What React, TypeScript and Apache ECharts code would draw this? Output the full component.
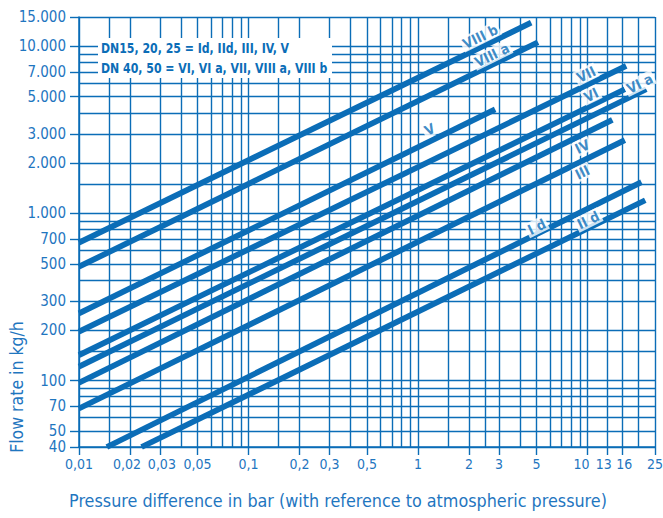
import React, { useEffect, useRef } from 'react';
import * as echarts from 'echarts';

const X_MIN = 0.01;
const X_MAX = 25;
const Y_MIN = 40;
const Y_MAX = 15000;

const xLabelValues = [0.01, 0.02, 0.03, 0.05, 0.1, 0.2, 0.3, 0.5, 1, 2, 3, 5, 10, 13, 16, 25];
const xLabelTexts = ['0,01', '0,02', '0,03', '0,05', '0,1', '0,2', '0,3', '0,5', '1', '2', '3', '5', '10', '13', '16', '25'];
const xGridValues = [0.01, 0.015, 0.02, 0.03, 0.04, 0.05, 0.06, 0.07, 0.08, 0.09, 0.1, 0.15, 0.2, 0.3, 0.4, 0.5, 0.6, 0.7, 0.8, 0.9, 1, 1.5, 2, 2.5, 3, 4, 5, 6, 7, 8, 9, 10, 13, 16, 20, 25];

const yLabelValues = [40, 50, 70, 100, 200, 300, 500, 700, 1000, 2000, 3000, 5000, 7000, 10000, 15000];
const yLabelTexts = ['40', '50', '70', '100', '200', '300', '500', '700', '1.000', '2.000', '3.000', '5.000', '7.000', '10.000', '15.000'];
const yGridValues = [40, 50, 60, 70, 80, 90, 100, 150, 200, 300, 400, 500, 600, 700, 800, 900, 1000, 1500, 2000, 3000, 4000, 5000, 6000, 7000, 8000, 9000, 10000, 15000];

const lineNames = ['VIII b', 'VIII a', 'V', 'VII', 'VI', 'VI a', 'IV', 'III', 'I d', 'II d'];
const lineStartX = [0.01, 0.01, 0.01, 0.01, 0.01, 0.01, 0.01, 0.01, 0.0146, 0.0234];
const lineStartY = [670, 480, 252, 196, 142, 121, 97, 68, 40, 40];
const lineEndX = [4.65, 5.1, 2.85, 16.9, 16.6, 22.2, 14.0, 16.6, 20.8, 21.9];
const lineEndY = [13870, 10590, 4200, 7640, 5540, 5540, 3630, 2750, 1540, 1200];

const labelX = [2.33, 2.73, 1.17, 9.8, 10.5, 20.3, 9.3, 9.33, 5.01, 10.1];
const labelY = [11440, 8880, 3190, 6800, 5120, 6000, 2510, 1764, 833, 914];

const legendLines = ['DN15, 20, 25 = Id, IId, III, IV, V', 'DN 40, 50 = VI, VI a, VII, VIII a, VIII b'];

const BLUE = '#0b6db7';
const TEXT_BLUE = '#1f76bf';
const FONT = "'Liberation Sans Narrow', 'DejaVu Sans Condensed', 'Roboto Condensed', Arial, sans-serif";

function lookup(values: number[], texts: string[], v: number): string {
  const i = values.findIndex((a) => Math.abs(a - v) / a < 1e-6);
  return i >= 0 ? texts[i] : '';
}

const shiftedX: Record<string, string> = { '0,02': 'sl3', '0,03': 'sr2', '10': 'sl6', '13': 'sl3', '16': 'sr2' };

function xLabel(v: number): string {
  const t = lookup(xLabelValues, xLabelTexts, v);
  const s = shiftedX[t];
  return s ? `{${s}|${t}}` : t;
}

export default function App() {
  const ref = useRef<HTMLDivElement>(null);

  useEffect(() => {
    if (!ref.current) return;
    const chart = echarts.init(ref.current, undefined, { renderer: 'svg' });

    const gridLine = { show: true, lineStyle: { color: BLUE, width: 1.4 } };

    const lineSeries = lineNames.map((name, i) => ({
      type: 'line',
      name,
      xAxisIndex: 0,
      yAxisIndex: 0,
      data: [
        [lineStartX[i], lineStartY[i]],
        [lineEndX[i], lineEndY[i]],
      ],
      symbol: 'none',
      clip: true,
      silent: true,
      z: 3,
      lineStyle: { color: BLUE, width: 5.8, cap: 'butt' },
    }));

    const labelSeries = {
      type: 'scatter',
      xAxisIndex: 0,
      yAxisIndex: 0,
      symbolSize: 0,
      silent: true,
      z: 6,
      data: labelX.map((x, i) => [x, labelY[i], lineNames[i]]),
      label: {
        show: true,
        position: 'inside',
        formatter: (p: any) => p.data[2],
        rotate: 26.2,
        color: BLUE,
        fontWeight: 'bold',
        fontSize: 14,
        fontFamily: FONT,
        backgroundColor: '#ffffff',
        padding: [1, 2, 0, 2],
      },
    };

    const labelFont = { color: TEXT_BLUE, fontSize: 14, fontFamily: FONT };

    const option: any = {
      animation: false,
      backgroundColor: '#ffffff',
      grid: { left: 79, right: 8, top: 17, bottom: 71, containLabel: false, outerBoundsMode: 'none' },
      xAxis: [
        {
          type: 'log',
          logBase: 10,
          min: X_MIN,
          max: X_MAX,
          position: 'bottom',
          axisLine: { show: false },
          axisTick: { show: false, customValues: xGridValues },
          axisLabel: { show: false },
          splitLine: gridLine,
          minorTick: { show: false },
          minorSplitLine: { show: false },
        },
        {
          type: 'log',
          logBase: 10,
          min: X_MIN,
          max: X_MAX,
          position: 'bottom',
          axisLine: { show: true, lineStyle: { color: BLUE, width: 1.5 } },
          axisTick: { show: true, customValues: xLabelValues, length: 8, lineStyle: { color: BLUE, width: 1.4 } },
          axisLabel: {
            show: true,
            customValues: xLabelValues,
            showMinLabel: true,
            showMaxLabel: true,
            hideOverlap: false,
            margin: 10,
            ...labelFont,
            formatter: xLabel,
            rich: {
              sl3: { ...labelFont, padding: [0, 6, 0, 0] },
              sl6: { ...labelFont, padding: [0, 12, 0, 0] },
              sr2: { ...labelFont, padding: [0, 0, 0, 4] },
            },
          },
          splitLine: { show: false },
        },
      ],
      yAxis: [
        {
          type: 'log',
          logBase: 10,
          min: Y_MIN,
          max: Y_MAX,
          position: 'left',
          axisLine: { show: false },
          axisTick: { show: false, customValues: yGridValues },
          axisLabel: { show: false },
          splitLine: gridLine,
          minorTick: { show: false },
          minorSplitLine: { show: false },
        },
        {
          type: 'log',
          logBase: 10,
          min: Y_MIN,
          max: Y_MAX,
          position: 'left',
          axisLine: { show: true, lineStyle: { color: BLUE, width: 1.5 } },
          axisTick: { show: true, customValues: yLabelValues, length: 9, lineStyle: { color: BLUE, width: 1.4 } },
          axisLabel: {
            show: true,
            customValues: yLabelValues,
            showMinLabel: true,
            showMaxLabel: true,
            hideOverlap: false,
            margin: 13,
            color: TEXT_BLUE,
            fontFamily: FONT,
            fontSize: 15,
            lineHeight: 13,
            formatter: (v: number) => lookup(yLabelValues, yLabelTexts, v),
          },
          splitLine: { show: false },
        },
      ],
      series: [...lineSeries, labelSeries],
      graphic: [
        {
          type: 'rect',
          z: 20,
          shape: { x: 98, y: 38, width: 234, height: 40 },
          style: { fill: '#ffffff' },
        },
        {
          type: 'text',
          z: 21,
          x: 101,
          y: 48,
          scaleX: 0.87,
          style: {
            text: legendLines[0],
            fill: BLUE,
            font: `bold 14px ${FONT}`,
            textAlign: 'left',
            textVerticalAlign: 'middle',
          },
        },
        {
          type: 'text',
          z: 21,
          x: 101,
          y: 68,
          scaleX: 0.87,
          style: {
            text: legendLines[1],
            fill: BLUE,
            font: `bold 14px ${FONT}`,
            textAlign: 'left',
            textVerticalAlign: 'middle',
          },
        },
        {
          type: 'text',
          z: 21,
          x: 17,
          y: 387,
          rotation: Math.PI / 2,
          style: {
            text: 'Flow rate in kg/h',
            fill: TEXT_BLUE,
            font: `17.5px ${FONT}`,
            textAlign: 'center',
            textVerticalAlign: 'middle',
          },
        },
        {
          type: 'text',
          z: 21,
          x: 338,
          y: 500,
          style: {
            text: 'Pressure difference in bar (with reference to atmospheric pressure)',
            fill: TEXT_BLUE,
            font: `17.8px ${FONT}`,
            textAlign: 'center',
            textVerticalAlign: 'middle',
          },
        },
      ],
    };

    chart.setOption(option);
    return () => chart.dispose();
  }, []);

  return (
    <div
      ref={ref}
      style={{ position: 'fixed', left: 0, top: 0, width: 663, height: 518, background: '#fff' }}
    />
  );
}
